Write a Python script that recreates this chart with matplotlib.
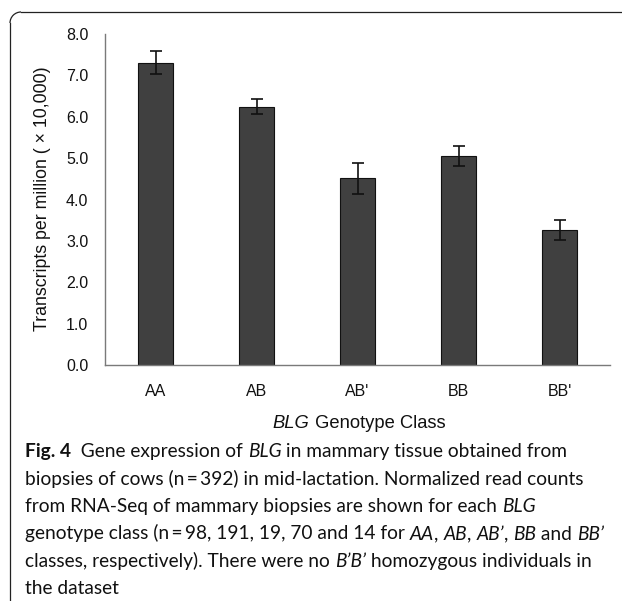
import matplotlib
matplotlib.use("Agg")
import matplotlib.pyplot as plt
from matplotlib.patches import Arc
from matplotlib.lines import Line2D
from matplotlib.transforms import IdentityTransform
import numpy as np

categories = ["AA", "AB", "AB'", "BB", "BB'"]
values = [7.31, 6.24, 4.51, 5.05, 3.26]
errors = [0.27, 0.18, 0.37, 0.25, 0.24]
yticks = [0.0, 1.0, 2.0, 3.0, 4.0, 5.0, 6.0, 7.0, 8.0]

W, H = 622, 601
fig = plt.figure(figsize=(W / 100, H / 100), dpi=100)
fig.patch.set_facecolor("white")

# Rounded frame (cut off at right and bottom), pixel coordinates
rad = 11
xl, yt = 10, H - 12
fc = "#222222"
fig.lines.append(Line2D([xl + rad, W + 20], [yt, yt], transform=IdentityTransform(),
                        color=fc, linewidth=0.9))
fig.lines.append(Line2D([xl, xl], [yt - rad, -20], transform=IdentityTransform(),
                        color=fc, linewidth=0.9))
fig.patches.append(Arc((xl + rad, yt - rad), 2 * rad, 2 * rad, theta1=90, theta2=180,
                       transform=IdentityTransform(), color=fc, linewidth=0.9))

ax = fig.add_axes([105 / W, 1 - 365 / H, 505 / W, (365 - 34) / H])
x = np.arange(len(categories))
ax.bar(x, values, width=0.345, color="#404040", edgecolor="#111111", linewidth=0.8,
       yerr=errors, error_kw=dict(ecolor="#111111", elinewidth=1.2, capsize=4, capthick=1.2))
ax.set_xlim(-0.5, len(categories) - 0.5)
ax.set_ylim(0, 8)
ax.set_yticks(yticks)
ax.set_yticklabels([f"{v:.1f}" for v in yticks])
ax.set_xticks(x)
ax.set_xticklabels(categories)
for s in ["top", "right"]:
    ax.spines[s].set_visible(False)
for s in ["left", "bottom"]:
    ax.spines[s].set_color("#7a7a7a")
    ax.spines[s].set_linewidth(1.0)
ax.tick_params(axis="both", length=0, labelsize=11.5, colors="#111111")
ax.tick_params(axis="y", pad=12)
ax.tick_params(axis="x", pad=14)
for lab in ax.get_xticklabels() + ax.get_yticklabels():
    lab.set_family("Liberation Sans")

fig.text(43 / W, 1 - 199 / H, "Transcripts per million ( \u00d7 10,000)", rotation=90,
         ha="center", va="center", fontsize=12.8, family="Liberation Sans", color="#111111")


def runs(fig, x0, yb, parts, size, fam):
    r = fig.canvas.get_renderer()
    xpos = x0
    for txt, style in parts:
        kw = dict(fontsize=size, family=fam, va="baseline", ha="left", color="#111111")
        if style == "i":
            kw["style"] = "italic"
        elif style == "b":
            kw["weight"] = "bold"
        t = fig.text(xpos / W, 1 - yb / H, txt, **kw)
        bb = t.get_window_extent(renderer=r)
        xpos += bb.width
    return xpos


r = fig.canvas.get_renderer()
xl_size = 13.2
xl_parts = [("BLG", "i"), (" Genotype Class", "")]
wsum = 0
for txt, st in xl_parts:
    t = fig.text(0, 0, txt, fontsize=xl_size, family="Liberation Sans",
                 style="italic" if st == "i" else "normal")
    wsum += t.get_window_extent(renderer=r).width
    t.remove()
runs(fig, 359 - wsum / 2, 428, xl_parts, xl_size, "Liberation Sans")

cap_fam = ["Lato", "DejaVu Sans"]
cap_size = 13.8
lines = [
    [("Fig. 4", "b"), ("  Gene expression of ", ""), ("BLG", "i"), (" in mammary tissue obtained from", "")],
    [("biopsies of cows (n\u2009=\u2009392) in mid-lactation. Normalized read counts", "")],
    [("from RNA-Seq of mammary biopsies are shown for each ", ""), ("BLG", "i")],
    [("genotype class (n\u2009=\u200998, 191, 19, 70 and 14 for ", ""), ("AA", "i"), (", ", ""), ("AB", "i"),
     (", ", ""), ("AB\u2019", "i"), (", ", ""), ("BB", "i"), (" and ", ""), ("BB\u2019", "i")],
    [("classes, respectively). There were no ", ""), ("B\u2019B\u2019", "i"), (" homozygous individuals in", "")],
    [("the dataset", "")],
]
base = 457
for i, ln in enumerate(lines):
    runs(fig, 25, base + i * 27.5, ln, cap_size, cap_fam)

fig.savefig("out.png", dpi=100, facecolor="white")
